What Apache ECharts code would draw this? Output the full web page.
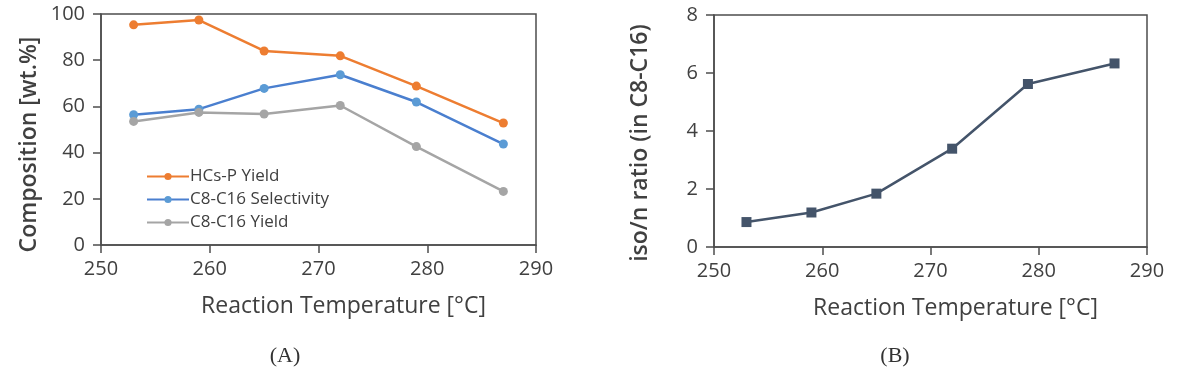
<!DOCTYPE html>
<html>
<head>
<meta charset="utf-8">
<script src="https://cdn.jsdelivr.net/npm/echarts@6/dist/echarts.min.js"></script>
<style>
  html, body { margin: 0; padding: 0; background: #fff; }
  #main { width: 1182px; height: 375px; }
</style>
</head>
<body>
<div id="main"></div>
<script>
// reaction temperatures (°C)
var temps = [253, 259, 265, 272, 279, 287];
// (A) composition, wt.%
var hcsYield = [95.3, 97.4, 84.0, 81.9, 68.8, 52.8];
var c8Selectivity = [56.4, 58.8, 67.8, 73.7, 61.9, 43.7];
var c8Yield = [53.5, 57.4, 56.7, 60.4, 42.6, 23.2];
// (B) iso/n ratio in C8-C16
var isoRatio = [0.86, 1.19, 1.84, 3.39, 5.62, 6.33];

var seriesNames = ['HCs-P Yield', 'C8-C16 Selectivity', 'C8-C16 Yield'];
var panelLabels = ['(A)', '(B)'];

function pairs(ys) {
	var out = [];
	for (var i = 0; i < temps.length; i++) {
		out.push([temps[i], ys[i]]);
	}
	return out;
}

var font = 'Open Sans';
var axisColor = '#4d4d4d';
var textColor = '#404040';

function xAxisOpt(gridIndex) {
	return {
		gridIndex : gridIndex,
		type : 'value',
		min : 250,
		max : 290,
		interval : 10,
		name : 'Reaction Temperature [\u00b0C]',
		nameLocation : 'middle',
		nameGap : 50,
		nameTextStyle : {
			fontFamily : font,
			fontSize : 23,
			color : textColor,
			padding : [ 0, 0, 0, 50 ]
		},
		axisLine : { lineStyle : { color : axisColor, width : 1.5 } },
		axisTick : { show : true, length : 8, lineStyle : { color : axisColor, width : 1.5 } },
		axisLabel : { fontFamily : font, fontSize : 20, color : textColor, margin : 14 },
		splitLine : { show : false }
	};
}

function yAxisOpt(gridIndex, name, max, interval, gap, pad) {
	return {
		gridIndex : gridIndex,
		type : 'value',
		min : 0,
		max : max,
		interval : interval,
		name : name,
		nameLocation : 'middle',
		nameGap : gap,
		nameTextStyle : {
			fontFamily : font,
			fontSize : 23,
			fontWeight : 600,
			color : textColor,
			padding : [ 0, pad, 0, 0 ]
		},
		axisLine : { lineStyle : { color : axisColor, width : 1.5 } },
		axisTick : { show : true, length : 8, lineStyle : { color : axisColor, width : 1.5 } },
		axisLabel : { fontFamily : font, fontSize : 20, color : textColor, margin : 16 },
		splitLine : { show : false }
	};
}

function lineSeries(name, data, lineColor, markColor) {
	return {
		name : name,
		type : 'line',
		xAxisIndex : 0,
		yAxisIndex : 0,
		data : pairs(data),
		symbol : 'circle',
		symbolSize : 9,
		lineStyle : { color : lineColor, width : 2.5 },
		itemStyle : { color : markColor },
		animation : false
	};
}

var myChart = echarts.init(document.getElementById('main'));
var option = {
	backgroundColor : '#ffffff',
	title : [ {
		text : panelLabels[0],
		left : 280,
		top : 340,
		textAlign : 'center',
		textStyle : { fontFamily : 'Liberation Serif', fontSize : 22, fontWeight : 'normal', color : '#333' }
	}, {
		text : panelLabels[1],
		left : 890,
		top : 340,
		textAlign : 'center',
		textStyle : { fontFamily : 'Liberation Serif', fontSize : 22, fontWeight : 'normal', color : '#333' }
	} ],
	legend : {
		orient : 'vertical',
		left : 146,
		top : 168,
		padding : 0,
		itemGap : 6,
		itemWidth : 42,
		itemHeight : 9,
		textStyle : { fontFamily : font, fontSize : 17, color : textColor, padding : [ 0, 0, 0, -4 ] },
		data : seriesNames
	},
	grid : [ {
		left : 101,
		top : 14,
		width : 435,
		height : 231,
		show : true,
		borderColor : axisColor,
		borderWidth : 1.5
	}, {
		left : 714,
		top : 15,
		width : 433,
		height : 232,
		show : true,
		borderColor : axisColor,
		borderWidth : 1.5
	} ],
	xAxis : [ xAxisOpt(0), xAxisOpt(1) ],
	yAxis : [
		yAxisOpt(0, 'Composition [wt.%]', 100, 20, 60, 30),
		yAxisOpt(1, 'iso/n ratio (in C8-C16)', 8, 2, 62, 24)
	],
	series : [
		lineSeries(seriesNames[0], hcsYield, '#ED7D31', '#ED7D31'),
		lineSeries(seriesNames[1], c8Selectivity, '#4A7FCF', '#5B9BD5'),
		lineSeries(seriesNames[2], c8Yield, '#A5A5A5', '#A5A5A5'),
		{
			name : 'iso/n ratio',
			type : 'line',
			xAxisIndex : 1,
			yAxisIndex : 1,
			data : pairs(isoRatio),
			symbol : 'rect',
			symbolSize : 10,
			lineStyle : { color : '#44546A', width : 2.5 },
			itemStyle : { color : '#44546A' },
			animation : false
		}
	]
};
myChart.setOption(option);
</script>
</body>
</html>
